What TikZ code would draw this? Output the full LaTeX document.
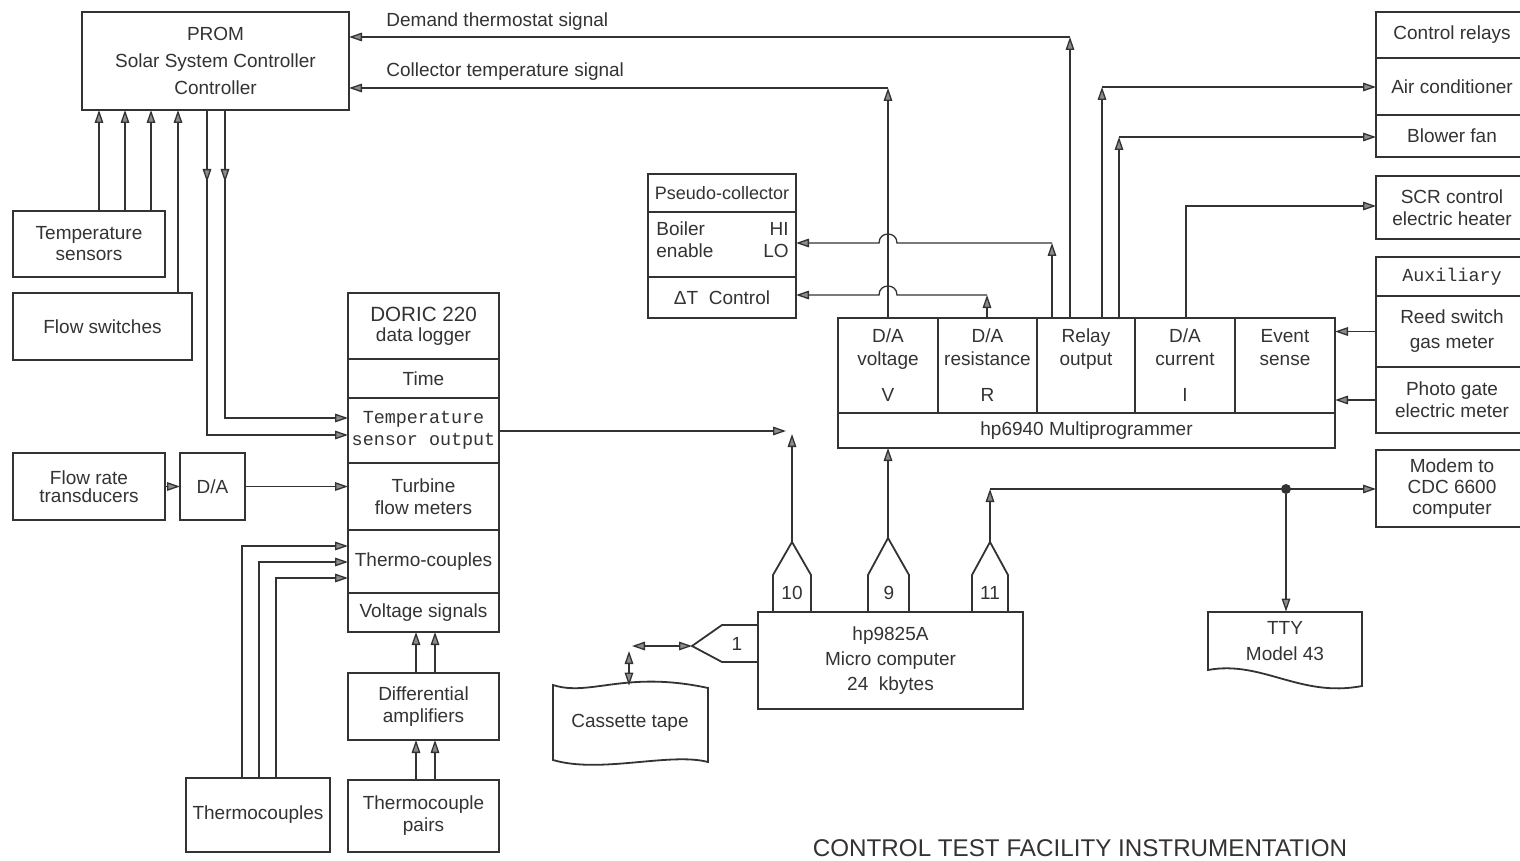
\documentclass[tikz,border=0pt]{standalone}
\usepackage{fontspec}
\setmainfont{Liberation Sans}
\newfontfamily\monof{Liberation Mono}
\usetikzlibrary{arrows.meta,calc}
\definecolor{ink}{gray}{0.2}
\definecolor{tipc}{gray}{0.55}
\newcommand\fs{\fontsize{9.5}{11}\selectfont}
\newcommand\rbox[7][]{\node[box,minimum width={(#5-#3)*0.5pt},minimum height={(#6-#4)*0.5pt},#1] (#2) at ({(#3+#5)/2},{(#4+#6)/2}) {#7};}
\begin{document}
\begin{tikzpicture}[x=0.5pt,y=-0.5pt,
 box/.style={draw=ink,line width=0.9pt,inner sep=0pt,outer sep=0pt,text=ink,align=center,font=\fs},
 boxline/.style={draw=ink,line width=0.9pt},
 wire/.style={draw=ink,line width=0.65pt},
 arr/.style={wire,-{Triangle[length=6.5pt,width=4.3pt,fill=tipc]}},
 darr/.style={wire,{Triangle[length=6.5pt,width=4.3pt,fill=tipc]}-{Triangle[length=6.5pt,width=4.3pt,fill=tipc]}},
 lbl/.style={text=ink,font=\fs,inner sep=0pt},
]
\fill[white] (0,0) rectangle (1520,861);
\useasboundingbox (0,0) rectangle (1520,861);

% ---------- boxes ----------
\rbox[font={\fontsize{9.5}{13.3}\selectfont}]{prom}{82}{12}{349}{110}{PROM\\Solar System Controller\\Controller}
\rbox[font={\fontsize{9.5}{10.5}\selectfont}]{tsens}{13}{211}{165}{277}{Temperature\\sensors}
\rbox{flowsw}{13}{293}{192}{360}{Flow switches}
\rbox[font={\fontsize{9.5}{10}\selectfont}]{doric}{348}{293}{499}{359}{{\fontsize{10.3}{10}\selectfont DORIC 220}\\data logger}
\rbox{time}{348}{359}{499}{398}{Time}
\rbox[font={\monof\fontsize{9.2}{11}\selectfont}]{tso}{348}{398}{499}{463}{Temperature\\sensor output}
\rbox{turb}{348}{463}{499}{530}{Turbine\\flow meters}
\rbox{tcc}{348}{530}{499}{593}{Thermo-couples}
\rbox{volt}{348}{593}{499}{632}{Voltage signals}
\rbox[font={\fontsize{9.5}{9}\selectfont}]{flowrt}{13}{453}{165}{520}{Flow rate\\transducers}
\rbox{dac}{180}{453}{245}{520}{D/A}
\rbox{tcs}{186}{778}{330}{852}{Thermocouples}
\rbox{diff}{348}{673}{499}{740}{Differential\\amplifiers}
\rbox{pairs}{348}{780}{499}{852}{Thermocouple\\pairs}

\rbox[font={\fontsize{9}{11}\selectfont}]{pc1}{648}{174}{796}{212}{Pseudo-collector}
\rbox{pc2}{648}{212}{796}{277}{}
\node[lbl,anchor=west,align=left] (boil) at (656,240) {Boiler\\enable};
\node[lbl,anchor=east,align=right] (hilo) at (789,240) {HI\\LO};
\rbox{pc3}{648}{277}{796}{318}{ΔT\ \ Control}

\rbox[font={\fontsize{9.5}{11.5}\selectfont}]{vcell}{838}{318}{938}{413}{D/A\\voltage\\[6.5pt]V}
\rbox[font={\fontsize{9.5}{11.5}\selectfont}]{rcell}{938}{318}{1037}{413}{D/A\\resistance\\[6.5pt]R}
\rbox[font={\fontsize{9.5}{11.5}\selectfont}]{relay}{1037}{318}{1135}{413}{Relay\\output\\[6.5pt]\phantom{V}}
\rbox[font={\fontsize{9.5}{11.5}\selectfont}]{icell}{1135}{318}{1235}{413}{D/A\\current\\[6.5pt]I}
\rbox[font={\fontsize{9.5}{11.5}\selectfont}]{ecell}{1235}{318}{1335}{413}{Event\\sense\\[6.5pt]\phantom{V}}
\rbox{mp}{838}{413}{1335}{448}{hp6940 Multiprogrammer}

\rbox{crel}{1376}{12}{1528}{58}{Control relays}
\rbox{aircon}{1376}{58}{1528}{115}{Air conditioner}
\rbox{blower}{1376}{115}{1528}{157}{Blower fan}
\rbox{scr}{1376}{176}{1528}{239}{SCR control\\electric heater}
\rbox[font={\monof\fontsize{9.2}{11}\selectfont}]{aux}{1376}{257}{1528}{296}{Auxiliary}
\rbox[font={\fontsize{9.5}{12.5}\selectfont}]{reed}{1376}{296}{1528}{367}{Reed switch\\gas meter}
\rbox{photo}{1376}{367}{1528}{433}{Photo gate\\electric meter}
\rbox[font={\fontsize{9.5}{10.7}\selectfont}]{modem}{1376}{450}{1528}{527}{Modem to\\CDC 6600\\computer}

\rbox[font={\fontsize{9.5}{12.3}\selectfont}]{hp}{758}{612}{1023}{709}{hp9825A\\Micro computer\\24\ \ kbytes}

% TTY (document shape)
\node[lbl,align=center,font={\fontsize{9.5}{13}\selectfont},minimum width=77pt,minimum height=29pt] (tty) at (1285,641) {TTY\\Model 43};
\draw[boxline] (1208,612) -- (1362,612) -- (1362,686) .. controls (1300,698) and (1262,660) .. (1208,670) -- cycle;

% Cassette tape
\node[lbl,minimum width=77pt,minimum height=37pt] (tape) at (630,723) {Cassette tape};
\draw[boxline] (553,685) .. controls (590,697) and (625,670) .. (708,688) -- (708,762) .. controls (670,752) and (600,774) .. (553,760) -- cycle;

% connectors on hp9825A
\draw[boxline] (773,612) -- (773,575) -- (792,542) -- (811,575) -- (811,612);
\draw[boxline] (868,612) -- (868,575) -- (888,538) -- (909,575) -- (909,612);
\draw[boxline] (972,612) -- (972,575) -- (990,542) -- (1008,575) -- (1008,612);
\draw[boxline] (758,625) -- (722,625) -- (692,646) -- (722,662) -- (758,662);
\coordinate (c10) at (792,542);
\coordinate (c9) at (888,538);
\coordinate (c11) at (990,542);
\coordinate (c1p) at (692,646);
\node[lbl] (n10) at (792,593) {10};
\node[lbl] (n9) at (889,593) {9};
\node[lbl] (n11) at (990,593) {11};
\node[lbl] (n1) at (737,644) {1};

% ---------- connectors ----------
\foreach \x in {99,125,151} \draw[arr] (tsens.north -| \x,0) -- (prom.south -| \x,0);
\draw[arr] (flowsw.north -| 178,0) -- (prom.south -| 178,0);

\coordinate (q1) at (207,435);
\coordinate (q2) at (225,418);
\draw[arr] (prom.south -| q1) |- (tso.west |- q1);
\draw[arr] (prom.south -| q1) -- (207,182);
\draw[arr] (prom.south -| q2) |- (tso.west |- q2);
\draw[arr] (prom.south -| q2) -- (225,182);

\draw[arr] (flowrt.east) -- (dac.west);
\draw[arr] (dac.east) -- (turb.west |- dac.east);

\draw[arr] (tcs.north -| 242,0) |- (tcc.west |- 0,546);
\draw[arr] (tcs.north -| 259,0) |- (tcc.west |- 0,562);
\draw[arr] (tcs.north -| 276,0) |- (tcc.west |- 0,578);

\foreach \x in {416,435} {
  \draw[arr] (diff.north -| \x,0) -- (volt.south -| \x,0);
  \draw[arr] (pairs.north -| \x,0) -- (diff.south -| \x,0);
}

\coordinate (jh) at (786,431);
\coordinate (jv) at (792,434);
\draw[arr] (tso.east |- jh) -- (jh);
\draw[arr] (c10) -- (jv);
\draw[arr] (c9) -- (mp.south -| c9);

\coordinate (m1) at (990,489);
\draw[arr] (c11) -- (m1);
\draw[arr] (m1) -- (modem.west |- m1);
\node[circle,fill=ink,inner sep=0pt,minimum size=5pt] (dot) at (1286,489) {};
\draw[arr] (dot) -- (tty.north -| dot);

\coordinate (t1) at (632,646);
\coordinate (t2) at (629,651);
\draw[darr] (c1p) -- (t1);
\draw[darr] (t2) -- (tape.north -| t2);

% signals to PROM
\coordinate (cc) at (888,88);
\draw[arr] (vcell.north -| cc) -- (cc);
\draw[arr] (cc) -- (prom.east |- cc);
\coordinate (dd) at (1070,37);
\draw[arr] (relay.north -| dd) -- (dd);
\draw[arr] (dd) -- (prom.east |- dd);
\node[lbl,anchor=base west] (lab1) at (386,27) {Demand thermostat signal};
\node[lbl,anchor=base west] (lab2) at (386,77) {Collector temperature signal};

% to pseudo-collector (with hops)
\coordinate (bb) at (1052,243);
\draw[arr] (relay.north -| bb) -- (bb);
\draw[arr] (bb) -- (897,243) .. controls (897,231) and (879,231) .. (879,243) -- (pc2.east |- bb);
\coordinate (tt) at (987,295);
\draw[arr] (rcell.north -| tt) -- (tt);
\draw[arr] (tt) -- (897,295) .. controls (897,283) and (879,283) .. (879,295) -- (pc3.east |- tt);

% to right column
\coordinate (aa) at (1102,87);
\draw[arr] (relay.north -| aa) -- (aa);
\draw[arr] (aa) -- (aircon.west |- aa);
\coordinate (bf) at (1119,137);
\draw[arr] (relay.north -| bf) -- (bf);
\draw[arr] (bf) -- (blower.west |- bf);
\coordinate (ss) at (1186,206);
\draw[arr] (icell.north -| ss) |- (scr.west |- ss);
\draw[arr] (reed.west) -- (ecell.east |- reed.west);
\draw[arr] (photo.west) -- (ecell.east |- photo.west);

\node[text=ink,font={\fontsize{12.1}{14}\selectfont}] (title) at (1080,848) {CONTROL TEST FACILITY INSTRUMENTATION};
\end{tikzpicture}
\end{document}
